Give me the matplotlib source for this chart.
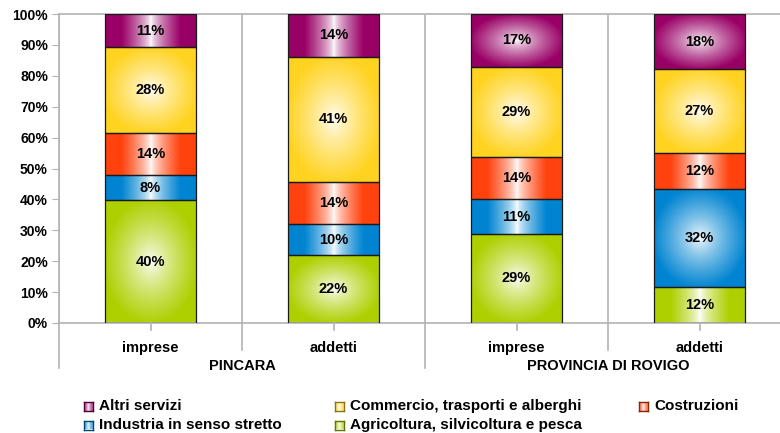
import numpy as np
import matplotlib
matplotlib.use("Agg")
import matplotlib.pyplot as plt
from matplotlib.patches import Rectangle
from matplotlib.lines import Line2D
import matplotlib.transforms as mtransforms

plt.rcParams['font.family'] = ['Liberation Sans', 'DejaVu Sans']
plt.rcParams['font.weight'] = 'bold'

# data (percent shares, bottom to top)
bar_labels = ['imprese', 'addetti', 'imprese', 'addetti']
groups = ['PINCARA', 'PROVINCIA DI ROVIGO']
sectors = ['Agricoltura, silvicoltura e pesca', 'Industria in senso stretto',
           'Costruzioni', 'Commercio, trasporti e alberghi', 'Altri servizi']
agricoltura = [39.8, 22.0, 28.9, 11.6]
industria = [8.0, 9.9, 11.1, 31.8]
costruzioni = [13.8, 13.7, 13.8, 11.6]
commercio = [27.6, 40.6, 29.1, 27.2]
altri = [10.8, 13.8, 17.1, 17.8]

colors = ['#AECF00', '#0084D1', '#FF420E', '#FFD320', '#990066']
edge_gray = '#b3b3b3'

series = [agricoltura, industria, costruzioni, commercio, altri]


def gradient(color, kind, n=80, strength=1.0):
    c = np.array(matplotlib.colors.to_rgb(color))
    u = np.linspace(-1, 1, n)
    U, V = np.meshgrid(u, u)
    if kind == 'h':
        m = np.clip(np.abs(U) / 0.65, 0, 1) ** 0.7
    else:
        m = np.clip(np.sqrt(U ** 2 + V ** 2) / 1.05, 0, 1) ** 0.75
    m = m * strength
    img = (1 - m)[..., None] * np.ones(3) + m[..., None] * c
    return img


W, H = 780, 433
fig = plt.figure(figsize=(W / 100, H / 100), dpi=100)
ax = fig.add_axes([59 / W, 1 - 323 / H, (791 - 59) / W, 309 / H])

x = np.arange(len(bar_labels))
bw = 0.5
bottom = np.zeros(len(x))
for vals, col in zip(series, colors):
    for i, v in enumerate(vals):
        kind = 'h' if v < 15 else 'r'
        y0, y1 = bottom[i], bottom[i] + v
        ax.imshow(gradient(col, kind), extent=(x[i] - bw / 2, x[i] + bw / 2, y0, y1),
                  aspect='auto', interpolation='bilinear', zorder=2, origin='lower')
        ax.add_patch(Rectangle((x[i] - bw / 2, y0), bw, v, fill=False,
                               edgecolor='#1a1a1a', lw=0.9, zorder=3))
        ax.text(x[i], (y0 + y1) / 2, f"{round(v)}%", ha='center', va='center',
                fontsize=10.5, fontweight='bold', zorder=4)
    bottom += np.array(vals)

ax.set_xlim(-0.5, 3.5)
ax.set_ylim(0, 100)
ax.set_yticks(np.arange(0, 101, 10))
ax.set_yticklabels([f"{t}%" for t in range(0, 101, 10)], fontsize=10, fontweight='bold')
ax.tick_params(axis='y', length=5, color=edge_gray, pad=3)
ax.set_xticks([])
for s in ['left', 'top', 'bottom', 'right']:
    ax.spines[s].set_color(edge_gray)
    ax.spines[s].set_linewidth(1.2)

# category separators through plot area and below
trans = mtransforms.blended_transform_factory(ax.transData, fig.transFigure)
for xs, ybot in [(-0.5, 368), (0.5, 350), (1.5, 368), (2.5, 350), (3.5, 368)]:
    ax.axvline(xs, color=edge_gray, lw=1.2, zorder=1)
    fig.add_artist(Line2D([xs, xs], [1 - 323 / H, 1 - ybot / H], transform=trans,
                          color=edge_gray, lw=1.2))
for i, xc in enumerate(x):
    fig.add_artist(Line2D([xc, xc], [1 - 323 / H, 1 - 330 / H], transform=trans,
                          color=edge_gray, lw=1.2))
    ax.text(xc, 1 - 348 / H, bar_labels[i], transform=trans,
            ha='center', va='center', fontsize=10.5, fontweight='bold')
for g, name in enumerate(groups):
    ax.text(2 * g + 0.5, 1 - 366 / H, name, transform=trans,
            ha='center', va='center', fontsize=10.5, fontweight='bold')

# legend
legend_items = [(4, 88, 406), (3, 339, 406), (2, 643, 406), (1, 88, 425), (0, 339, 425)]
for idx, mx, my in legend_items:
    lax = fig.add_axes([(mx - 4.5) / W, 1 - (my + 4.5) / H, 9 / W, 9 / H])
    lax.imshow(gradient(colors[idx], 'h', 16, strength=0.6), aspect='auto',
               interpolation='bilinear')
    lax.set_xticks([])
    lax.set_yticks([])
    edge = np.array(matplotlib.colors.to_rgb(colors[idx])) * 0.55
    for s in lax.spines.values():
        s.set_color(edge)
        s.set_linewidth(1.0)
    fig.text((mx + 11) / W, 1 - my / H, sectors[idx], ha='left', va='center',
             fontsize=11, fontweight='bold')

fig.savefig('out.png', dpi=100)
